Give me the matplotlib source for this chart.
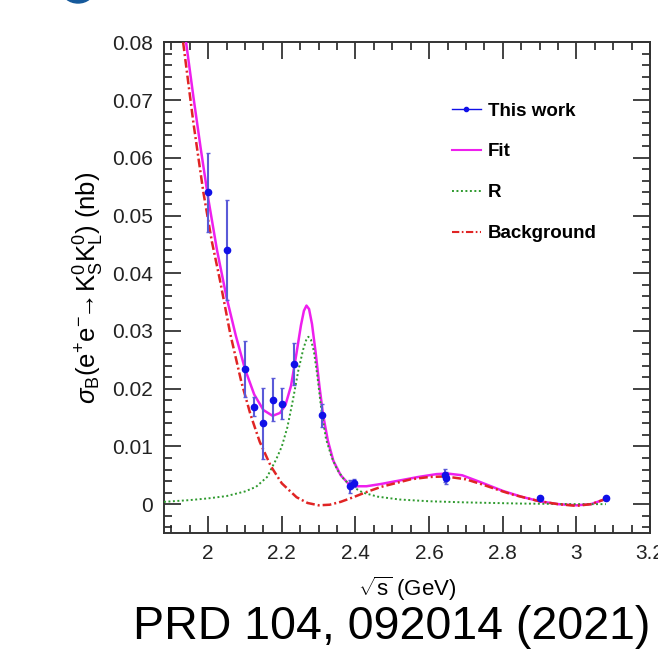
import matplotlib
matplotlib.use('Agg')
import matplotlib.pyplot as plt
from matplotlib.lines import Line2D
from matplotlib.patches import Ellipse
from matplotlib.ticker import MultipleLocator, FuncFormatter

plt.rcParams['font.family'] = ['Liberation Sans', 'DejaVu Sans']
plt.rcParams['mathtext.fontset'] = 'custom'
plt.rcParams['mathtext.rm'] = 'Liberation Sans'
plt.rcParams['mathtext.it'] = 'Liberation Sans:italic'
plt.rcParams['mathtext.bf'] = 'Liberation Sans:bold'

# measured points (sqrt(s) in GeV, cross section in nb)
energy = [2.0000, 2.0500, 2.1000, 2.1250, 2.1500, 2.1750, 2.2000, 2.2324,
          2.3094, 2.3864, 2.3960, 2.6444, 2.6464, 2.9000, 3.0800]
xsec = [0.0540, 0.0440, 0.0234, 0.0169, 0.0140, 0.0181, 0.0174, 0.0243,
        0.0154, 0.0031, 0.0037, 0.0050, 0.0045, 0.0010, 0.0010]
xsec_err = [0.0068, 0.0087, 0.0048, 0.0016, 0.0061, 0.0037, 0.0027, 0.0037,
            0.0020, 0.0011, 0.0007, 0.0011, 0.0010, 0.0002, 0.0002]

# fit curves
fit_x = [1.940, 1.960, 1.980, 2.000, 2.024, 2.050, 2.075, 2.100, 2.125, 2.150,
         2.175, 2.195, 2.210, 2.225, 2.240, 2.252, 2.260, 2.267, 2.274, 2.282,
         2.292, 2.302, 2.312, 2.325, 2.340, 2.360, 2.380, 2.400, 2.430, 2.470,
         2.520, 2.570, 2.620, 2.650, 2.690, 2.740, 2.800, 2.850, 2.900, 2.950,
         3.000, 3.040, 3.080]
fit_y = [0.0800, 0.0705, 0.0615, 0.0530, 0.0440, 0.0358, 0.0292, 0.0234, 0.0190, 0.0163,
         0.0153, 0.0158, 0.0172, 0.0205, 0.0262, 0.0310, 0.0335, 0.0344, 0.0338, 0.0312,
         0.0262, 0.0205, 0.0155, 0.0110, 0.0075, 0.0050, 0.0036, 0.0031, 0.0031, 0.0035,
         0.0041, 0.0047, 0.0052, 0.0053, 0.0050, 0.0038, 0.0023, 0.0013, 0.0005, 0.0000,
         -0.0002, 0.0000, 0.0009]

r_x = [1.880, 1.950, 2.000, 2.050, 2.100, 2.130, 2.160, 2.185, 2.200, 2.215,
       2.230, 2.245, 2.258, 2.266, 2.272, 2.279, 2.287, 2.296, 2.308, 2.320,
       2.335, 2.350, 2.370, 2.390, 2.420, 2.460, 2.520, 2.600, 2.700, 2.850,
       3.000, 3.080]
r_y = [0.0004, 0.0007, 0.0010, 0.0014, 0.0022, 0.0030, 0.0047, 0.0078, 0.0100, 0.0133,
       0.0180, 0.0232, 0.0268, 0.0284, 0.0290, 0.0285, 0.0265, 0.0225, 0.0160, 0.0113,
       0.0082, 0.0060, 0.0042, 0.0031, 0.0020, 0.0013, 0.0008, 0.0005, 0.0003, 0.0001,
       0.0000, 0.0000]

bg_x = [1.932, 1.960, 1.987, 2.010, 2.032, 2.060, 2.090, 2.115, 2.140, 2.170,
        2.200, 2.240, 2.270, 2.300, 2.330, 2.360, 2.390, 2.430, 2.470, 2.550,
        2.600, 2.645, 2.700, 2.740, 2.800, 2.830, 2.900, 2.950, 3.000, 3.040,
        3.080]
bg_y = [0.0800, 0.0660, 0.0540, 0.0455, 0.0388, 0.0295, 0.0212, 0.0155, 0.0108, 0.0066,
        0.0036, 0.0012, 0.0002, -0.0002, -0.0001, 0.0004, 0.0011, 0.0021, 0.0030, 0.0043,
        0.0047, 0.0048, 0.0043, 0.0035, 0.0022, 0.0016, 0.0005, 0.0000, -0.0003, 0.0000,
        0.0009]

fig = plt.figure(figsize=(6.58, 6.64), dpi=100)
ax = fig.add_axes([164 / 658, 1 - 533 / 664, 486 / 658, 490.6 / 664])

ax.plot(fit_x, fit_y, color='#ee1fee', lw=1.8, zorder=3)
ax.plot(r_x, r_y, color='#2e9a2e', lw=1.4, linestyle=(0, (1, 1.3)), zorder=4)
ax.plot(bg_x, bg_y, color='#e02424', lw=1.8, linestyle=(0, (3.5, 1.2, 0.8, 1.2)), zorder=5)
ax.errorbar(energy, xsec, yerr=xsec_err, fmt='o', color='#1010e8', ms=4.5,
            ecolor='#5a5ad8', elinewidth=1.5, capsize=1.5, capthick=1.0, zorder=6)

ax.set_xlim(1.88, 3.2)
ax.set_ylim(-0.005, 0.08)
ax.xaxis.set_major_locator(MultipleLocator(0.2))
ax.xaxis.set_minor_locator(MultipleLocator(0.05))
ax.yaxis.set_major_locator(MultipleLocator(0.01))
ax.yaxis.set_minor_locator(MultipleLocator(0.002))
ax.xaxis.set_major_formatter(FuncFormatter(lambda v, p: '%g' % round(v, 2)))
ax.yaxis.set_major_formatter(FuncFormatter(lambda v, p: '0' if abs(v) < 1e-9 else '%.2f' % v))
ax.tick_params(which='both', direction='in', top=True, right=True, labelsize=15,
               colors='#222222', pad=8)
ax.tick_params(which='major', length=12, width=1.2)
ax.tick_params(which='minor', length=6, width=1.2)
for s in ax.spines.values():
    s.set_linewidth(1.4)
    s.set_color('#333333')

ax.set_xlabel(r'$\sqrt{\mathrm{s}}$ (GeV)', fontsize=16, labelpad=8)
ax.set_ylabel(r'$\sigma_{\mathrm{B}}(\mathrm{e}^{+}\mathrm{e}^{-}\!\!\rightarrow\! \mathrm{K}_{\mathrm{S}}^{0}\mathrm{K}_{\mathrm{L}}^{0})$ (nb)',
              fontsize=18.5, labelpad=4)

handles = [
    Line2D([], [], color='#1010e8', lw=1.0, marker='o', ms=3),
    Line2D([], [], color='#ee1fee', lw=1.5),
    Line2D([], [], color='#2e9a2e', lw=1.4, linestyle=(0, (1, 1.3))),
    Line2D([], [], color='#e02424', lw=1.5, linestyle=(0, (3.5, 1.2, 0.8, 1.2))),
]
labels = ['This work', 'Fit', 'R', 'Background']
fig.legend(handles, labels, loc='upper left', bbox_to_anchor=(443 / 658, 1 - 93 / 664),
           frameon=False, borderpad=0, handlelength=1.5, handletextpad=0.4,
           labelspacing=1.27, prop={'weight': 'bold', 'size': 13.5})

fig.text(133 / 658, 1 - 627 / 664, 'PRD 104, 092014 (2021)', fontsize=33.5,
         ha='left', va='center', color='black')

# blue logo edge peeking in at the top-left
fig.patches.append(Ellipse((78 / 658, 1 + 10 / 664), 32 / 658, 26 / 664,
                           transform=fig.transFigure, color='#15599b'))

fig.savefig('out.png', dpi=100)
